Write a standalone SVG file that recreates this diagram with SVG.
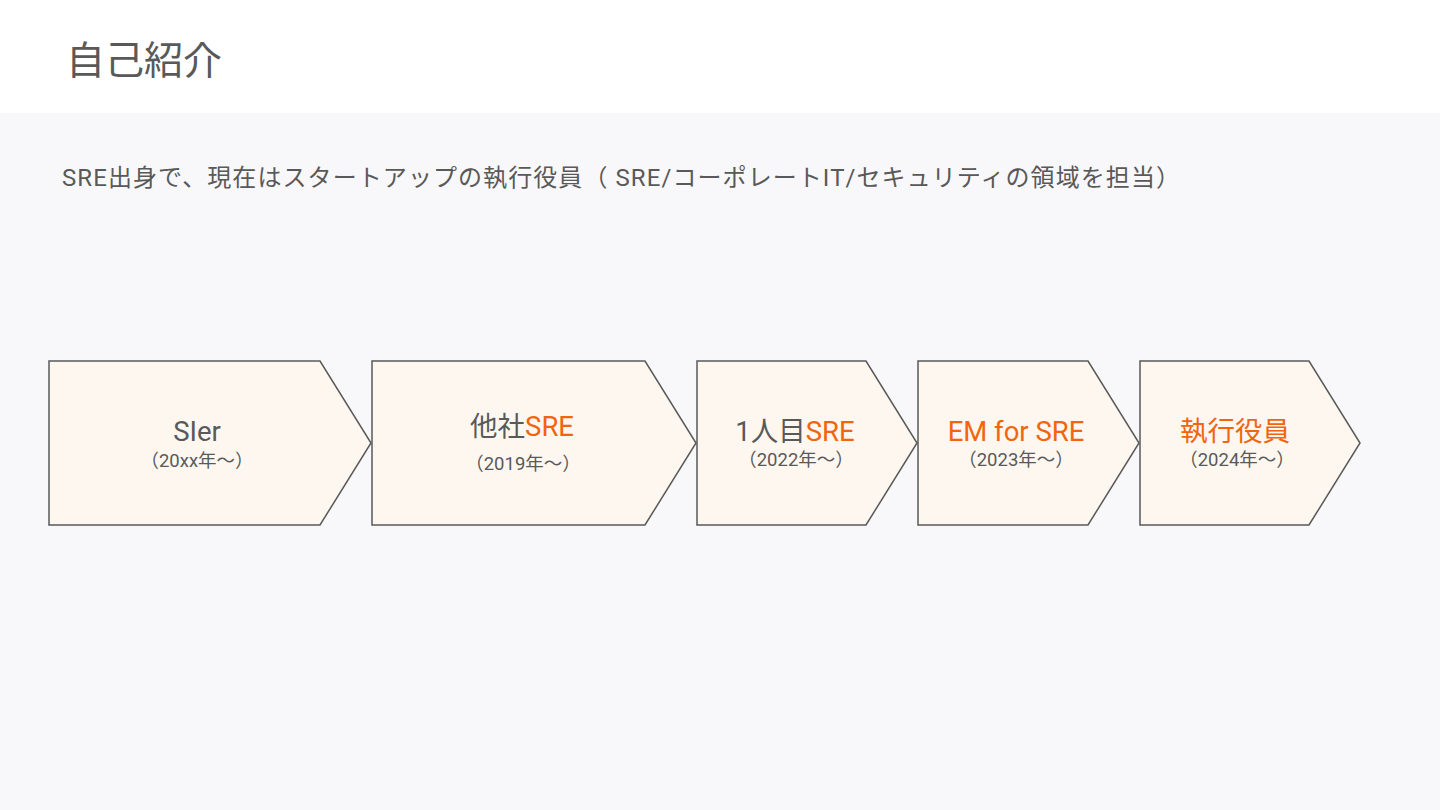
<svg xmlns="http://www.w3.org/2000/svg" width="1440" height="810" viewBox="0 0 1440 810">
<style>
text{font-family:Roboto,"Noto Sans CJK JP",sans-serif;fill:#595959}
.o{fill:#F0650E}
.main{font-size:27.5px;text-anchor:middle}
.sub{font-size:18.5px;text-anchor:middle}
.box{fill:#FEF7F0;stroke:#595959;stroke-width:1.5}
</style>
<rect x="0" y="0" width="1440" height="810" fill="#F8F8FA"/>
<rect x="0" y="0" width="1440" height="113" fill="#FFFFFF"/>
<text x="66" y="74" font-size="39">自己紹介</text>
<text x="62" y="186" font-size="24" textLength="1118" lengthAdjust="spacing">SRE出身で、現在はスタートアップの執行役員（ SRE/コーポレートIT/セキュリティの領域を担当）</text>
<g id="connectors"></g>
<g id="n1">
<polygon class="box" points="49,361 320,361 371,443 320,525 49,525"/>
<text class="main" x="197" y="441">SIer</text>
<text class="sub" x="197" y="467">（20xx年～）</text>
</g>
<g id="n2">
<polygon class="box" points="372,361 645,361 696,443 645,525 372,525"/>
<text class="main" x="522" y="436">他社<tspan class="o">SRE</tspan></text>
<text class="sub" x="523" y="470" font-size="19.5">（2019年～）</text>
</g>
<g id="n3">
<polygon class="box" points="697,361 866,361 917,443 866,525 697,525"/>
<text class="main" x="795" y="441">1人目<tspan class="o">SRE</tspan></text>
<text class="sub" x="796" y="466">（2022年～）</text>
</g>
<g id="n4">
<polygon class="box" points="918,361 1088,361 1139,443 1088,525 918,525"/>
<text class="main o" x="1016" y="441">EM for SRE</text>
<text class="sub" x="1016" y="466">（2023年～）</text>
</g>
<g id="n5">
<polygon class="box" points="1140,361 1309,361 1360,443 1309,525 1140,525"/>
<text class="main o" x="1235" y="441">執行役員</text>
<text class="sub" x="1237" y="466">（2024年～）</text>
</g>
</svg>
